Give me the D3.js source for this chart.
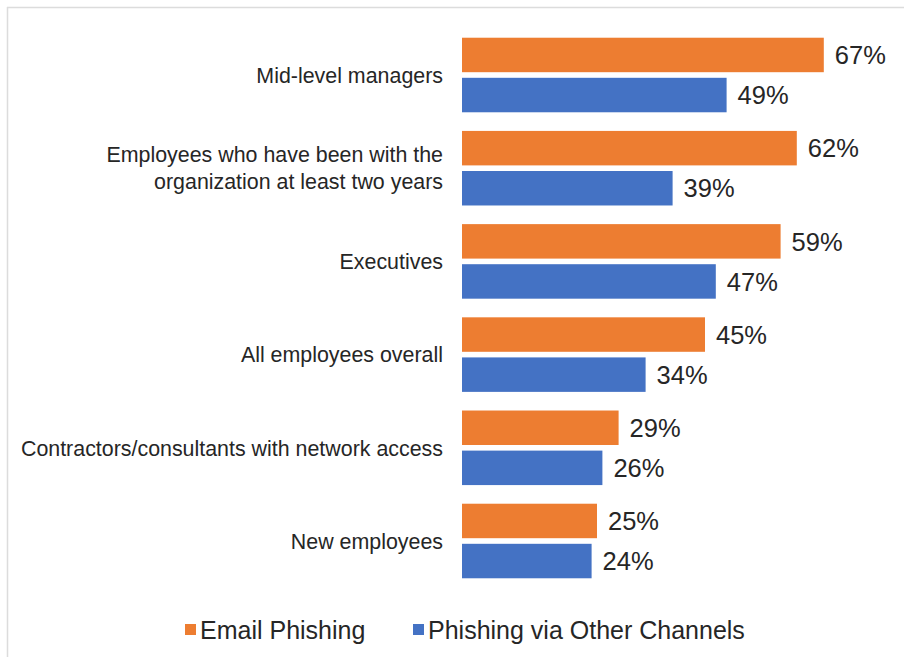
<!DOCTYPE html>
<html>
<head>
<meta charset="utf-8">
<script src="https://cdn.jsdelivr.net/npm/d3@7"></script>
<style>
  html, body { margin: 0; padding: 0; background: #fff; }
  svg { display: block; }
</style>
</head>
<body>
<svg id="chart" width="904" height="657"></svg>
<script>
const categories = [
  "Mid-level managers",
  "Employees who have been with the|organization at least two years",
  "Executives",
  "All employees overall",
  "Contractors/consultants with network access",
  "New employees"
];
const seriesNames = ["Email Phishing", "Phishing via Other Channels"];
const emailPhishing = [67, 62, 59, 45, 29, 25];
const otherChannels = [49, 39, 47, 34, 26, 24];
const colors = ["#ED7D31", "#4472C4"];

const svg = d3.select("#chart");
const W = 904, H = 657;

svg.append("rect").attr("width", W).attr("height", H).attr("fill", "#fff");
// light frame lines
svg.append("line").attr("x1", 7).attr("x2", W).attr("y1", 7.5).attr("y2", 7.5)
  .attr("stroke", "#dcdcdc").attr("stroke-width", 1.5);
svg.append("line").attr("x1", 7.5).attr("x2", 7.5).attr("y1", 7).attr("y2", H)
  .attr("stroke", "#dcdcdc").attr("stroke-width", 1.5);

const x = d3.scaleLinear().domain([0, 100]).range([462, 462 + 540]);
const y = d3.scaleBand().domain(categories).range([28.4, 587.6])
  .paddingInner(0.2).paddingOuter(0.1);
const ySub = d3.scaleBand().domain(seriesNames).range([0, y.bandwidth()])
  .paddingInner(0.14);

const data = categories.map((c, i) => ({
  cat: c,
  vals: [
    { s: seriesNames[0], v: emailPhishing[i], color: colors[0] },
    { s: seriesNames[1], v: otherChannels[i], color: colors[1] }
  ]
}));

const g = svg.append("g");
const groups = g.selectAll("g.grp").data(data).enter().append("g")
  .attr("class", "grp")
  .attr("transform", d => `translate(0,${y(d.cat)})`);

groups.selectAll("rect").data(d => d.vals).enter().append("rect")
  .attr("x", x(0))
  .attr("y", d => ySub(d.s))
  .attr("width", d => x(d.v) - x(0))
  .attr("height", ySub.bandwidth())
  .attr("fill", d => d.color);

groups.selectAll("text.val").data(d => d.vals).enter().append("text")
  .attr("class", "val")
  .attr("x", d => x(d.v) + 11)
  .attr("y", d => ySub(d.s) + ySub.bandwidth() / 2)
  .attr("dy", "0.36em")
  .attr("font-family", "Liberation Sans, Arial, sans-serif")
  .attr("font-size", 25.5)
  .attr("fill", "#262626")
  .text(d => d.v + "%");

// category labels
const yAxis = d3.axisLeft(y).tickSize(0).tickPadding(0).tickFormat("");
const axisG = svg.append("g").attr("transform", `translate(443,0)`).call(yAxis);
axisG.select(".domain").remove();
axisG.selectAll(".tick").each(function(d) {
  const lines = d.split("|");
  const t = d3.select(this).append("text")
    .attr("text-anchor", "end")
    .attr("font-family", "Liberation Sans, Arial, sans-serif")
    .attr("font-size", 21.4)
    .attr("fill", "#262626");
  const lh = 27;
  lines.forEach((ln, i) => {
    t.append("tspan").attr("x", 0)
      .attr("y", (i - (lines.length - 1) / 2) * lh)
      .attr("dy", "0.36em")
      .text(ln);
  });
});

// legend
const legend = svg.append("g");
const legendItems = [
  { name: seriesNames[0], color: colors[0], x: 185 },
  { name: seriesNames[1], color: colors[1], x: 413 }
];
legendItems.forEach(it => {
  legend.append("rect").attr("x", it.x).attr("y", 624).attr("width", 11).attr("height", 11)
    .attr("fill", it.color);
  legend.append("text").attr("x", it.x + 15).attr("y", 630).attr("dy", "0.36em")
    .attr("font-family", "Liberation Sans, Arial, sans-serif")
    .attr("font-size", 25).attr("fill", "#262626")
    .text(it.name);
});
</script>
</body>
</html>
